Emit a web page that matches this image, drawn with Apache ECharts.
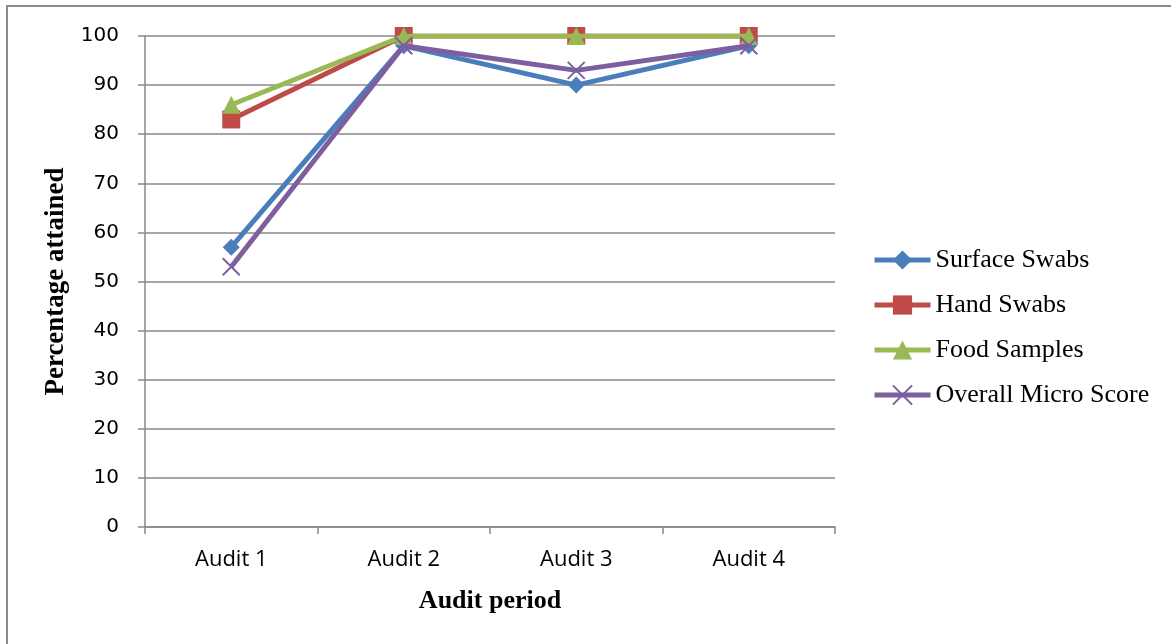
<!DOCTYPE html>
<html>
<head>
<meta charset="utf-8">
<script src="https://cdn.jsdelivr.net/npm/echarts@6/dist/echarts.min.js"></script>
<style>
  html, body { margin: 0; padding: 0; background: #fff; }
  #chart { width: 1171px; height: 644px; }
</style>
</head>
<body>
<div id="chart"></div>
<script>
// Audit periods along the x axis
const categories = ['Audit 1', 'Audit 2', 'Audit 3', 'Audit 4'];

// Percentage attained per audit
const surfaceSwabs = [57, 98, 90, 98];
const handSwabs = [83, 100, 100, 100];
const foodSamples = [86, 100, 100, 100];
const overallMicroScore = [53, 98, 93, 98];

const seriesNames = ['Surface Swabs', 'Hand Swabs', 'Food Samples', 'Overall Micro Score'];
const yTicks = [0, 10, 20, 30, 40, 50, 60, 70, 80, 90, 100];

const colors = ['#4A7EBB', '#BE4B48', '#98B954', '#7D5FA0'];
const symbols = ['diamond', 'rect', 'triangle', 'path://M0,0L10,10M10,0L0,10'];
const symbolSizes = [17, 18, 18, 17];
const values = [surfaceSwabs, handSwabs, foodSamples, overallMicroScore];

const chart = echarts.init(document.getElementById('chart'));

const series = seriesNames.map((name, i) => ({
  name: name,
  type: 'line',
  data: values[i],
  symbol: symbols[i],
  symbolSize: symbolSizes[i],
  showAllSymbol: true,
  color: colors[i],
  lineStyle: { width: 5, color: colors[i] },
  itemStyle: i === 3
    ? { color: 'none', borderColor: colors[i], borderWidth: 2 }
    : { color: colors[i], borderWidth: 0 },
  z: 2 + i
}));

chart.setOption({
  animation: false,
  backgroundColor: '#fff',
  graphic: [{
    type: 'rect',
    shape: { x: 7, y: 6, width: 1200, height: 700 },
    style: { fill: 'none', stroke: '#8a8a8a', lineWidth: 2 },
    silent: true
  }],
  grid: { left: 145, right: 336, top: 36, bottom: 117, containLabel: false },
  legend: {
    orient: 'vertical',
    left: 872,
    top: 247,
    padding: 0,
    itemGap: 19,
    itemWidth: 56,
    itemHeight: 24,
    data: seriesNames,
    lineStyle: { width: 5 },
    textStyle: { fontFamily: 'Liberation Serif', fontSize: 26, lineHeight: 26, color: '#000' }
  },
  xAxis: {
    type: 'category',
    data: categories,
    boundaryGap: true,
    name: 'Audit period',
    nameLocation: 'middle',
    nameGap: 61,
    nameTextStyle: { fontFamily: 'Liberation Serif', fontWeight: 'bold', fontSize: 26, color: '#000' },
    axisLine: { lineStyle: { color: '#888', width: 1.5 } },
    axisTick: { show: true, length: 7, alignWithLabel: false, lineStyle: { color: '#888', width: 1.5 } },
    axisLabel: { fontFamily: 'Open Sans', fontSize: 22, color: '#000', margin: 22 }
  },
  yAxis: {
    type: 'value',
    min: yTicks[0],
    max: yTicks[yTicks.length - 1],
    interval: 10,
    name: 'Percentage attained',
    nameLocation: 'middle',
    nameGap: 73,
    nameRotate: 90,
    nameTextStyle: { fontFamily: 'Liberation Serif', fontWeight: 'bold', fontSize: 27, color: '#000' },
    axisLine: { show: true, lineStyle: { color: '#888', width: 1.5 } },
    axisTick: { show: true, length: 7, inside: false, lineStyle: { color: '#888', width: 1.5 } },
    axisLabel: { fontFamily: 'DejaVu Sans', fontSize: 20, color: '#000', margin: 26 },
    splitLine: { show: true, lineStyle: { color: '#888', width: 1.5 } }
  },
  series: series
});
</script>
</body>
</html>
